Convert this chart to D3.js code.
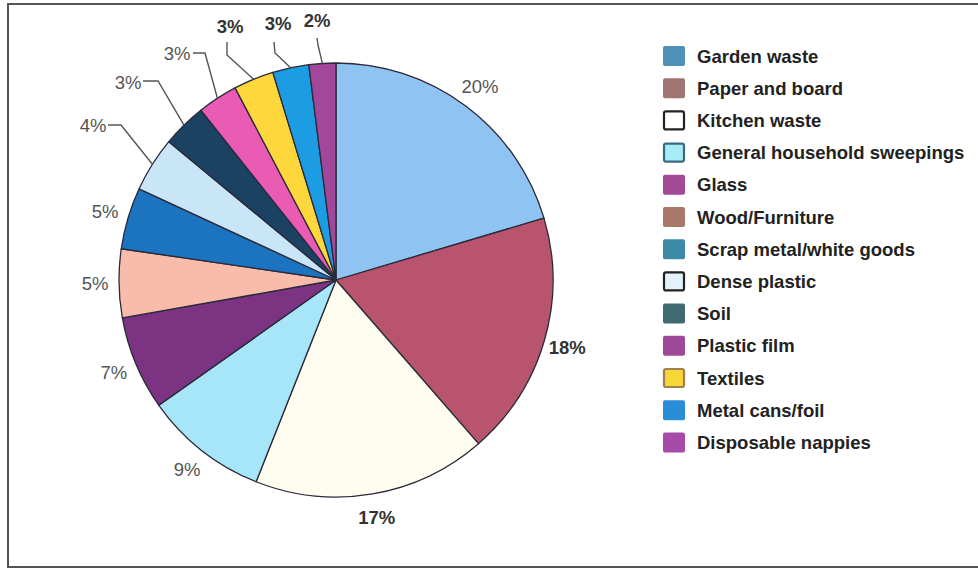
<!DOCTYPE html>
<html>
<head>
<meta charset="utf-8">
<script src="https://cdn.jsdelivr.net/npm/d3@7"></script>
<style>
  html, body { margin: 0; padding: 0; background: #ffffff; }
  svg { display: block; }
  text { font-family: "Liberation Sans", Arial, Helvetica, sans-serif; }
</style>
</head>
<body>
<svg id="chart" width="978" height="570"></svg>
<script>
// ---- data ----
const categories = [
  "Garden waste", "Paper and board", "Kitchen waste", "General household sweepings",
  "Glass", "Wood/Furniture", "Scrap metal/white goods", "Dense plastic", "Soil",
  "Plastic film", "Textiles", "Metal cans/foil", "Disposable nappies"
];
const values = [20.4, 18.2, 17.4, 9.2, 7.0, 5.1, 4.6, 4.1, 3.3, 3.0, 3.0, 2.7, 2.0];
// percentage labels as printed on the chart
const valueLabels = ["20%", "18%", "17%", "9%", "7%", "5%", "5%", "4%", "3%", "3%", "3%", "3%", "2%"];

// ---- styles ----
const sliceColors = ["#8fc3f2", "#b8546e", "#fffdf0", "#a6e6f8", "#7b3382", "#f9bcaa",
  "#1c74c0", "#c9e5f8", "#1b4262", "#ea5cb4", "#fdd73c", "#1c9ce2", "#a3479b"];
const legendColors = ["#4f90b8", "#a07472", "#ffffff", "#a8ecf8", "#a24a98", "#a87868",
  "#3c8aa6", "#e4f2fc", "#3f6a70", "#a04898", "#f8d838", "#2a8ed6", "#a84aa8"];
const legendStrokes = [null, null, "#222", "#3a6a80", null, null, null, "#222", null, null, "#a08050", null, null];
const boldLabel = [false, true, true, false, false, false, false, false, false, false, true, true, true];

// ---- layout ----
const W = 978, H = 570;
const cx = 336, cy = 280, R = 217;
const labelR = 1.11;
// callouts: label anchor and elbow points (pixels), keyed by category index
const callouts = {
  7:  { label: [93, 125], elbow: [[108, 125], [121, 125]] },
  8:  { label: [128, 82], elbow: [[143, 81], [158, 81]] },
  9:  { label: [177, 53], elbow: [[193, 53], [205, 53]] },
  10: { label: [230, 26], elbow: [[227, 42], [227, 55]] },
  11: { label: [278, 23], elbow: [[274, 42], [275, 53]] },
  12: { label: [317, 20], elbow: [[317, 38], [318, 45]] }
};

const svg = d3.select("#chart");

// frame
svg.append("rect")
  .attr("x", 8).attr("y", 4).attr("width", 1000).attr("height", 563)
  .attr("fill", "none").attr("stroke", "#555").attr("stroke-width", 2);

const pie = d3.pie().sort(null).value(d => d);
const arcs = pie(values);
const arc = d3.arc().innerRadius(0).outerRadius(R);

const g = svg.append("g").attr("transform", `translate(${cx},${cy})`);
g.selectAll("path.slice")
  .data(arcs)
  .enter().append("path")
  .attr("class", "slice")
  .attr("d", arc)
  .attr("fill", (d, i) => sliceColors[i])
  .attr("stroke", "#2a2a3a")
  .attr("stroke-width", 1.3)
  .attr("stroke-linejoin", "round");

// labels
arcs.forEach((d, i) => {
  const mid = (d.startAngle + d.endAngle) / 2;
  const fill = boldLabel[i] ? "#333" : "#555";
  const weight = boldLabel[i] ? "bold" : "normal";
  if (callouts[i]) {
    const c = callouts[i];
    const edge = [cx + R * Math.sin(mid), cy - R * Math.cos(mid)];
    const pts = [c.elbow[0], c.elbow[1], edge];
    svg.append("path")
      .attr("d", d3.line()(pts))
      .attr("fill", "none")
      .attr("stroke", "#555")
      .attr("stroke-width", 1.4);
    svg.append("text")
      .attr("x", c.label[0]).attr("y", c.label[1])
      .attr("text-anchor", "middle").attr("dominant-baseline", "central")
      .attr("font-size", 18.5).attr("font-weight", weight).attr("fill", fill)
      .text(valueLabels[i]);
  } else {
    const r = R * labelR;
    svg.append("text")
      .attr("x", cx + r * Math.sin(mid)).attr("y", cy - r * Math.cos(mid))
      .attr("text-anchor", "middle").attr("dominant-baseline", "central")
      .attr("font-size", 18.5).attr("font-weight", weight).attr("fill", fill)
      .text(valueLabels[i]);
  }
});

// legend
const ly = d3.scalePoint().domain(d3.range(categories.length)).range([56, 56 + 32.2 * 12]);
const leg = svg.append("g");
categories.forEach((name, i) => {
  const y = ly(i);
  leg.append("rect")
    .attr("x", legendStrokes[i] ? 664 : 663).attr("y", y - 10 + (legendStrokes[i] ? 1 : 0))
    .attr("width", legendStrokes[i] ? 20 : 22).attr("height", legendStrokes[i] ? 18 : 20)
    .attr("rx", 2)
    .attr("fill", legendColors[i])
    .attr("stroke", legendStrokes[i] || "none")
    .attr("stroke-width", legendStrokes[i] ? 2.2 : 0);
  leg.append("text")
    .attr("x", 697).attr("y", y)
    .attr("dominant-baseline", "central")
    .attr("font-size", 18.5).attr("font-weight", "bold").attr("fill", "#222")
    .text(name);
});
</script>
</body>
</html>
